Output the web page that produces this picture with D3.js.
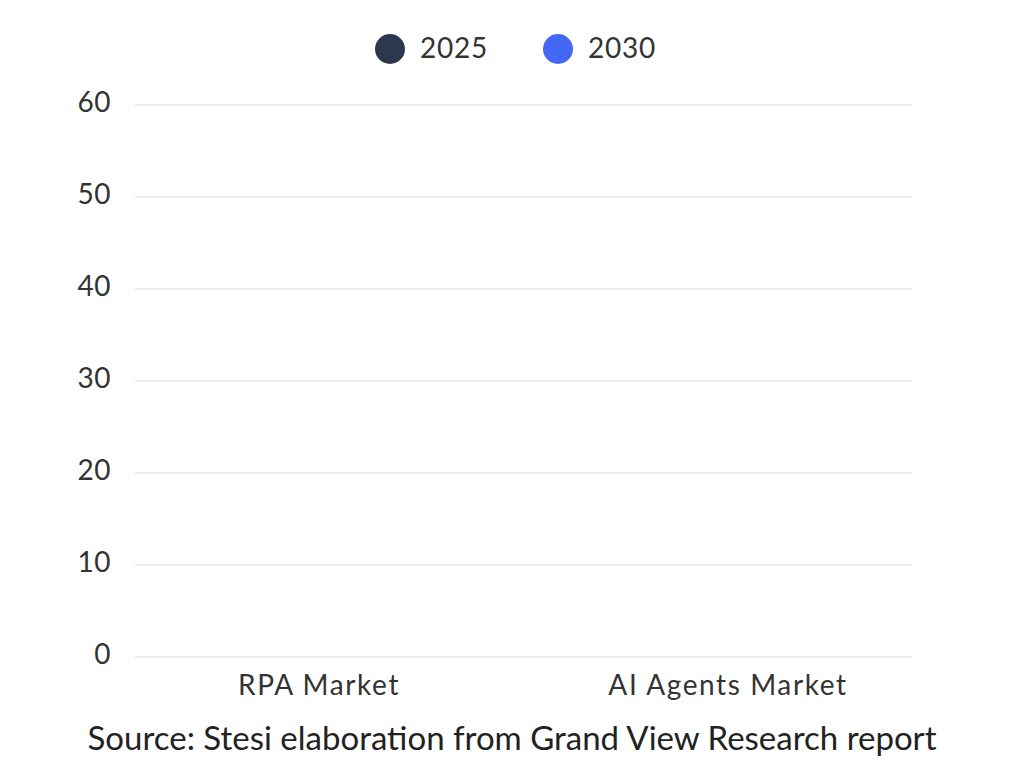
<!DOCTYPE html>
<html>
<head>
<meta charset="utf-8">
<script src="https://cdn.jsdelivr.net/npm/d3@7"></script>
<style>
  html, body { margin: 0; padding: 0; background: #ffffff; }
  svg { display: block; }
  text { font-family: "Lato", "Open Sans", sans-serif; }
</style>
</head>
<body>
<svg id="chart" width="1024" height="768"></svg>
<script>
// Data (bars are not visible in the reference frame, so values read as 0)
const categories = ["RPA Market", "AI Agents Market"];
const seriesNames = ["2025", "2030"];
const values2025 = [0, 0];
const values2030 = [0, 0];
const yTicks = [0, 10, 20, 30, 40, 50, 60];
const sourceText = "Source: Stesi elaboration from Grand View Research report";
const colors = ["#2c3850", "#4467f6"];

const svg = d3.select("#chart");
const margin = { left: 135, right: 112, top: 105, bottom: 111 };
const W = 1024, H = 768;

const x = d3.scaleBand().domain(categories).range([margin.left, W - margin.right])
  .paddingInner(0.1).paddingOuter(0);
const xs = d3.scaleBand().domain(seriesNames).range([0, x.bandwidth()]).padding(0.15);
const y = d3.scaleLinear().domain([0, 60]).range([H - margin.bottom, margin.top]);

// gridlines
svg.append("g").selectAll("line").data(yTicks).join("line")
  .attr("x1", margin.left).attr("x2", W - margin.right)
  .attr("y1", d => y(d)).attr("y2", d => y(d))
  .attr("stroke", "#d9d9d9").attr("stroke-width", 1.2);

// y axis labels
const yAxis = d3.axisLeft(y).tickValues(yTicks).tickSize(0).tickPadding(0);
const ya = svg.append("g").attr("transform", `translate(${margin.left - 24},-2)`).call(yAxis);
ya.select(".domain").remove();
ya.selectAll("text").attr("font-size", 28).attr("fill", "#333").attr("font-family", "Lato, sans-serif")
  .attr("letter-spacing", 0.5);

// x axis labels
const xAxis = d3.axisBottom(x).tickSize(0).tickPadding(0);
const xa = svg.append("g").attr("transform", `translate(0,${y(0)})`).call(xAxis);
xa.select(".domain").remove();
xa.selectAll("text").attr("font-size", 28).attr("fill", "#333").attr("font-family", "Lato, sans-serif")
  .attr("dy", null).attr("y", 38).attr("letter-spacing", 1.6);

// bars
const rows = categories.map((c, i) => ({ cat: c, vals: [values2025[i], values2030[i]] }));
svg.append("g").selectAll("g").data(rows).join("g")
  .attr("transform", d => `translate(${x(d.cat)},0)`)
  .selectAll("rect").data(d => d.vals.map((v, j) => ({ s: seriesNames[j], v, j })))
  .join("rect")
  .attr("x", d => xs(d.s)).attr("width", xs.bandwidth())
  .attr("y", d => y(d.v)).attr("height", d => y(0) - y(d.v))
  .attr("fill", d => colors[d.j]);

// legend
const legendX = [390, 558];
const lg = svg.append("g").selectAll("g").data(seriesNames).join("g")
  .attr("transform", (d, i) => `translate(${legendX[i]},49)`);
lg.append("circle").attr("r", 15).attr("fill", (d, i) => colors[i]);
lg.append("text").attr("x", 30).attr("dy", "0.33em").attr("font-size", 28)
  .attr("letter-spacing", 0.8).attr("fill", "#333").text(d => d);

// source
svg.append("text").attr("x", 512).attr("y", 750).attr("text-anchor", "middle")
  .attr("font-size", 33).attr("fill", "#222").text(sourceText);
</script>
</body>
</html>
